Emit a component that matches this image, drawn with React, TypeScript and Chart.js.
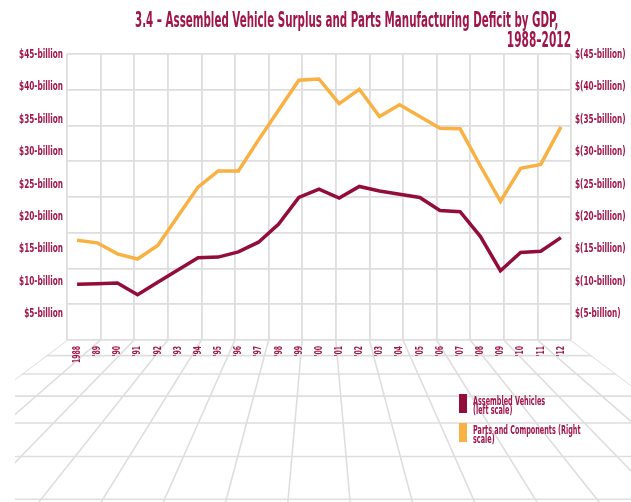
import React, { useEffect, useRef } from "react";
import { Chart, registerables } from "chart.js";

Chart.register(...registerables);

// Years along the bottom
const years = [
  "1988", "'89", "'90", "'91", "'92", "'93", "'94", "'95", "'96", "'97", "'98", "'99",
  "'00", "'01", "'02", "'03", "'04", "'05", "'06", "'07", "'08", "'09", "'10", "'11", "'12",
];

// Assembled vehicle surplus, $ billion (left scale)
const assembledVehicles = [
  9.6, 9.7, 9.8, 8.0, 9.9, 11.8, 13.7, 13.8, 14.6, 16.1, 18.9, 23.0,
  24.3, 22.9, 24.7, 24.0, 23.5, 23.0, 21.0, 20.8, 17.0, 11.7, 14.5, 14.7, 16.8,
];

// Parts and components deficit, $ billion (right scale)
const partsAndComponents = [
  16.4, 16.0, 14.3, 13.5, 15.6, 20.1, 24.6, 27.1, 27.1, 31.9, 36.5, 41.1,
  41.3, 37.5, 39.7, 35.5, 37.3, 35.5, 33.7, 33.6, 27.9, 22.4, 27.5, 28.1, 33.9,
];

// Tick values shown on both vertical scales
const scaleTicks = [5, 10, 15, 20, 25, 30, 35, 40, 45];

const titleLines = [
  "3.4 \u2013 Assembled Vehicle Surplus and Parts Manufacturing Deficit by GDP,",
  "1988\u20132012",
];

const legendLabels = [
  ["Assembled Vehicles", "(left scale)"],
  ["Parts and Components (Right", "scale)"],
];

const CRIMSON = "#A0164A";
const VEHICLE_COLOR = "#930D3B";
const PARTS_COLOR = "#F8B142";
const GRID_COLOR = "#DEDEDE";
const NARROW = "'Liberation Sans Narrow', 'DejaVu Sans Condensed', 'Arial Narrow', sans-serif";

function condensedText(
  ctx: CanvasRenderingContext2D,
  text: string,
  x: number,
  y: number,
  align: CanvasTextAlign,
  sx: number,
  baseline: CanvasTextBaseline = "alphabetic",
  rotate = 0
) {
  ctx.save();
  ctx.translate(x, y);
  if (rotate) ctx.rotate(rotate);
  ctx.scale(sx, 1);
  ctx.textAlign = align;
  ctx.textBaseline = baseline;
  ctx.fillText(text, 0, 0);
  ctx.restore();
}

// Perspective floor spreading out from the base of the grid wall
const floorPlugin = {
  id: "floor",
  beforeDraw(chart: any) {
    const { ctx, chartArea, width, height } = chart;
    const { left, right, bottom } = chartArea;
    const xg = chart.scales.xg;
    const cx = (left + right) / 2;
    const depth = 190;
    const vy = bottom - depth;
    const proj = (x0: number, y: number) => cx + ((x0 - cx) * (y - vy)) / (bottom - vy);
    const minX = 15;

    ctx.save();
    ctx.beginPath();
    ctx.rect(minX, bottom, width - minX, height - bottom);
    ctx.clip();
    ctx.beginPath();
    ctx.moveTo(left, bottom);
    ctx.lineTo(proj(left, height + 20), height + 20);
    ctx.lineTo(proj(right, height + 20), height + 20);
    ctx.lineTo(right, bottom);
    ctx.closePath();
    ctx.clip();

    ctx.strokeStyle = GRID_COLOR;
    ctx.lineWidth = 1.6;

    for (let i = 0; i <= 15; i++) {
      const x0 = xg.getPixelForValue(i);
      ctx.beginPath();
      ctx.moveTo(x0, bottom);
      ctx.lineTo(proj(x0, height + 20), height + 20);
      ctx.stroke();
    }

    const base = 1 / depth;
    for (let n = 1; n <= 6; n++) {
      const y = vy + 1 / (base - 0.0004 * n);
      ctx.beginPath();
      ctx.moveTo(0, y);
      ctx.lineTo(width, y);
      ctx.stroke();
    }
    ctx.restore();
  },
};

// Tall, narrow tick labels placed from the scales' own tick positions
const tickLabelPlugin = {
  id: "condensedTicks",
  afterDraw(chart: any) {
    const { ctx } = chart;
    ctx.save();
    ctx.fillStyle = CRIMSON;

    const y = chart.scales.y;
    const y2 = chart.scales.y2;
    ctx.font = `bold 12px ${NARROW}`;
    y.ticks.forEach((t: any) => {
      const label = t.label ?? `$${t.value}-billion`;
      condensedText(ctx, String(label), y.right - 4, y.getPixelForValue(t.value), "right", 0.68, "middle");
    });
    y2.ticks.forEach((t: any) => {
      const label = t.label ?? `$(${t.value}-billion)`;
      condensedText(ctx, String(label), y2.left + 4, y2.getPixelForValue(t.value), "left", 0.68, "middle");
    });

    const x = chart.scales.x;
    ctx.font = `bold 11px ${NARROW}`;
    x.ticks.forEach((t: any, i: number) => {
      const label = t.label ?? x.getLabelForValue(t.value);
      condensedText(ctx, String(label), x.getPixelForTick(i), x.top + 6, "right", 0.62, "middle", -Math.PI / 2);
    });
    ctx.restore();
  },
};

// Title and legend
const decorPlugin = {
  id: "decor",
  afterDraw(chart: any) {
    const { ctx, chartArea } = chart;
    ctx.save();
    ctx.fillStyle = CRIMSON;
    ctx.font = `bold 21px ${NARROW}`;
    condensedText(ctx, titleLines[0], chartArea.right - 436, 27, "left", 0.545);
    condensedText(ctx, titleLines[1], chartArea.right, 47, "right", 0.56);

    const colors = [VEHICLE_COLOR, PARTS_COLOR];
    const lx = 459;
    const tops = [394, 423];
    legendLabels.forEach((lines, i) => {
      ctx.fillStyle = colors[i];
      ctx.fillRect(lx, tops[i], 8, 19);
      ctx.fillStyle = CRIMSON;
      ctx.font = `bold 12px ${NARROW}`;
      lines.forEach((line, j) => {
        condensedText(ctx, line, lx + 14, tops[i] + 11 + j * 9, "left", 0.6);
      });
    });
    ctx.restore();
  },
};

export default function App() {
  const canvasRef = useRef<HTMLCanvasElement | null>(null);

  useEffect(() => {
    const canvas = canvasRef.current;
    if (!canvas) return;

    const setTicks = (scale: any) => {
      scale.ticks = scaleTicks.map((v) => ({ value: v }));
    };

    const chart = new Chart(canvas, {
      type: "line",
      data: {
        labels: years,
        datasets: [
          {
            label: "Assembled Vehicles (left scale)",
            data: assembledVehicles,
            borderColor: VEHICLE_COLOR,
            backgroundColor: VEHICLE_COLOR,
            borderWidth: 3.5,
            pointRadius: 0,
            tension: 0,
            xAxisID: "x",
            yAxisID: "y",
          },
          {
            label: "Parts and Components (Right scale)",
            data: partsAndComponents,
            borderColor: PARTS_COLOR,
            backgroundColor: PARTS_COLOR,
            borderWidth: 3.5,
            pointRadius: 0,
            tension: 0,
            xAxisID: "x",
            yAxisID: "y2",
          },
        ],
      },
      options: {
        responsive: false,
        animation: false,
        layout: { padding: { top: 54, left: 0, right: 0, bottom: 0 } },
        plugins: {
          legend: { display: false },
          tooltip: { enabled: false },
          title: { display: false },
        },
        scales: {
          x: {
            type: "category",
            position: "bottom",
            offset: true,
            grid: { display: false },
            border: { display: false },
            ticks: { display: false, autoSkip: false },
            afterFit(scale: any) {
              scale.height = 162;
            },
          },
          xg: {
            type: "linear",
            position: "top",
            min: 0,
            max: 15,
            grid: { color: GRID_COLOR, lineWidth: 1.8, drawTicks: false },
            border: { display: false },
            ticks: { display: false, stepSize: 1 },
            afterFit(scale: any) {
              scale.height = 0;
            },
          },
          y: {
            type: "linear",
            position: "left",
            min: 1,
            max: 45.15,
            grid: { display: false },
            border: { display: false },
            afterBuildTicks: setTicks,
            ticks: {
              display: false,
              callback: (v: any) => `$${v}-billion`,
            },
            afterFit(scale: any) {
              scale.width = 67;
            },
          },
          yg: {
            type: "linear",
            position: "left",
            min: 0,
            max: 8,
            grid: { color: GRID_COLOR, lineWidth: 1.8, drawTicks: false },
            border: { display: false },
            ticks: { display: false, stepSize: 1 },
            afterFit(scale: any) {
              scale.width = 0;
            },
          },
          y2: {
            type: "linear",
            position: "right",
            min: 1,
            max: 45.15,
            grid: { display: false },
            border: { display: false },
            afterBuildTicks: setTicks,
            ticks: {
              display: false,
              callback: (v: any) => `$(${v}-billion)`,
            },
            afterFit(scale: any) {
              scale.width = 60;
            },
          },
        },
      },
      plugins: [floorPlugin, tickLabelPlugin, decorPlugin],
    });

    return () => chart.destroy();
  }, []);

  return (
    <div style={{ position: "absolute", left: 0, top: 0, width: 631, height: 502, background: "#fff" }}>
      <canvas ref={canvasRef} width={631} height={502} />
    </div>
  );
}
